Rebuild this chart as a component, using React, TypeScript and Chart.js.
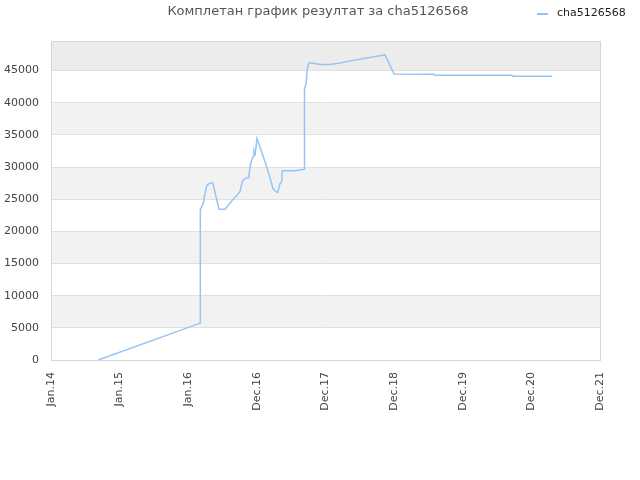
import React, { useEffect, useRef } from "react";
import { Chart, registerables } from "chart.js";

Chart.register(...registerables);

const titleText = "Комплетан график резултат за cha5126568";
const seriesLabel = "cha5126568";
const tickLabels = ["Jan.14", "Jan.15", "Jan.16", "Dec.16", "Dec.17", "Dec.18", "Dec.19", "Dec.20", "Dec.21"];
const yTickValues = [0, 5000, 10000, 15000, 20000, 25000, 30000, 35000, 40000, 45000];

// x in tick-interval units (0 = Jan.14 ... 8 = Dec.21)
const pointX = [
  0.689, 2.176, 2.176, 2.219, 2.23, 2.269, 2.307, 2.357, 2.448, 2.536,
  2.633, 2.754, 2.788, 2.831, 2.885, 2.888, 2.91, 2.948, 2.958, 2.977,
  3.002, 3.143, 3.239, 3.303, 3.337, 3.362, 3.37, 3.556, 3.687, 3.687,
  3.701, 3.716, 3.735, 3.755, 3.799, 3.93, 4.066, 4.211, 4.382, 4.6,
  4.746, 4.867, 4.998, 5.581, 5.588, 6.717, 6.724, 7.3,
];
const pointY = [
  0, 5740, 23430, 24360, 25140, 27090, 27470, 27560, 23430, 23430,
  24720, 26160, 27820, 28240, 28400, 29110, 30570, 31750, 32630, 32120,
  34450, 30040, 26540, 26010, 27470, 27720, 29420, 29420, 29640, 39570,
  42160, 43030, 45260, 46190, 46190, 45930, 45930, 46190, 46550, 46970,
  47220, 47440, 44480, 44430, 44270, 44270, 44120, 44120,
];

const yMax = 49600;
const yStep = 5000;
const lineColor = "#96c4f4";
const fontFamily = "'DejaVu Sans', sans-serif";

const decorPlugin = {
  id: "decor",
  beforeDraw(chart: any) {
    const { ctx, chartArea, scales } = chart;
    const y = scales.y;
    ctx.save();
    ctx.fillStyle = "#ffffff";
    ctx.fillRect(0, 0, chart.width, chart.height);
    for (let v = 0; v < yMax; v += yStep) {
      const k = v / yStep;
      if (k % 2 === 1) {
        const top = y.getPixelForValue(Math.min(v + yStep, yMax));
        const bot = y.getPixelForValue(v);
        ctx.fillStyle = v + yStep >= yMax ? "#ececec" : "#f2f2f2";
        ctx.fillRect(chartArea.left, top, chartArea.right - chartArea.left, bot - top);
      }
    }
    ctx.restore();
  },
  afterDraw(chart: any) {
    const { ctx, chartArea } = chart;
    ctx.save();
    ctx.strokeStyle = "#d6d6d6";
    ctx.lineWidth = 1;
    ctx.strokeRect(
      Math.round(chartArea.left) + 0.5,
      Math.round(chartArea.top) + 0.5,
      Math.round(chartArea.right - chartArea.left),
      Math.round(chartArea.bottom - chartArea.top)
    );
    // title
    ctx.fillStyle = "#555555";
    ctx.font = `13px ${fontFamily}`;
    ctx.textAlign = "center";
    ctx.textBaseline = "middle";
    ctx.fillText(titleText, 318, 12);
    // legend
    ctx.strokeStyle = lineColor;
    ctx.lineWidth = 2;
    ctx.beginPath();
    ctx.moveTo(537, 14);
    ctx.lineTo(548, 14);
    ctx.stroke();
    ctx.fillStyle = "#222222";
    ctx.font = `11px ${fontFamily}`;
    ctx.textAlign = "left";
    ctx.fillText(seriesLabel, 557, 13);
    ctx.restore();
  },
};

export default function App() {
  const canvasRef = useRef<HTMLCanvasElement | null>(null);

  useEffect(() => {
    document.body.style.margin = "0";
    const canvas = canvasRef.current;
    if (!canvas) return;
    const data = pointX.map((x, i) => ({ x, y: pointY[i] }));
    const chart = new Chart(canvas, {
      type: "line",
      data: {
        datasets: [
          {
            label: seriesLabel,
            data,
            borderColor: lineColor,
            backgroundColor: lineColor,
            borderWidth: 1.5,
            pointRadius: 0,
            pointHoverRadius: 0,
            tension: 0,
            fill: false,
          },
        ],
      },
      options: {
        responsive: false,
        animation: false,
        layout: { padding: { top: 41, right: 40, bottom: 0, left: 0 } },
        plugins: {
          legend: { display: false },
          title: { display: false },
          tooltip: { enabled: false },
        },
        scales: {
          x: {
            type: "linear",
            min: 0,
            max: 8,
            grid: { display: false, drawTicks: false },
            border: { display: false },
            afterBuildTicks: (scale: any) => {
              scale.ticks = tickLabels.map((_, i) => ({ value: i }));
            },
            afterFit: (scale: any) => {
              scale.height = 120;
            },
            ticks: {
              autoSkip: false,
              minRotation: 90,
              maxRotation: 90,
              padding: 12,
              color: "#444444",
              font: { family: fontFamily, size: 11 },
              callback: (v: any) => tickLabels[Math.round(Number(v))] ?? "",
            },
          },
          y: {
            type: "linear",
            min: 0,
            max: yMax,
            grid: { color: "#e0e0e0", drawTicks: false },
            border: { display: false },
            afterBuildTicks: (scale: any) => {
              scale.ticks = yTickValues.map((v) => ({ value: v }));
            },
            afterFit: (scale: any) => {
              scale.width = 51;
            },
            ticks: {
              autoSkip: false,
              padding: 12,
              color: "#444444",
              font: { family: fontFamily, size: 11 },
              callback: (v: any) => String(Math.round(Number(v))),
            },
          },
        },
      },
      plugins: [decorPlugin],
    });
    return () => chart.destroy();
  }, []);

  return (
    <div style={{ position: "absolute", left: 0, top: 0, width: 640, height: 480 }}>
      <canvas ref={canvasRef} width={640} height={480} />
    </div>
  );
}
